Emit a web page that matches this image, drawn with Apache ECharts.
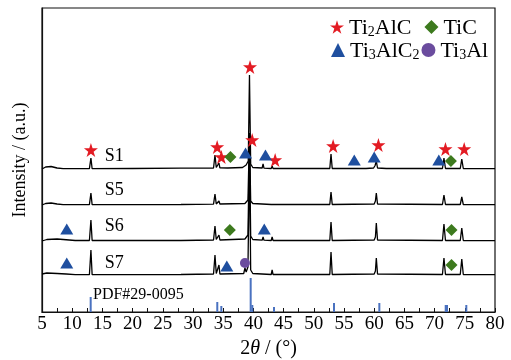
<!DOCTYPE html>
<html>
<head>
<meta charset="utf-8">
<script src="https://cdn.jsdelivr.net/npm/echarts@6/dist/echarts.min.js"></script>
<style>html,body{margin:0;padding:0;background:#fff;}#c{width:511px;height:360px;}</style>
</head>
<body>
<div id="c"></div>
<script>
// ---- data (2θ in degrees, intensity in a.u.) ----
const sampleNames = ['S1', 'S5', 'S6', 'S7'];
const sampleOffsets = [143, 107, 71, 37];
const sampleLabelAngle = 15.4;
const sampleLabelY = [156, 122, 86, 49];

const s1 = [[5,0],[5.6,2],[6.5,2.5],[7.5,1],[8.5,0.3],[12.85,0.3],[13.1,11],[13.3,0.3],
  [20,0.5],[28,0.8],[33.4,1],[33.64,14],[33.85,1.5],[34.15,1.5],[34.3,6],[34.45,1.2],
  [35.75,1],[35.9,2.5],[36.05,1],[38.2,1.5],[38.8,4],[39.15,8],[39.35,94],[39.55,5],[39.9,1.5],
  [41.45,1],[41.6,5],[41.75,0.8],[42.95,0.5],[43.1,3],[43.25,0.5],
  [47.55,0.5],[47.7,1.5],[47.85,0.5],[52.65,0.5],[52.85,15],[53.05,0.5],
  [58.65,0.5],[58.8,1.5],[58.95,0.5],[59.9,1],[60.15,3.5],[60.35,8],[60.55,1],
  [62,0.5],[62.1,1.2],[62.25,0.3],[71.3,0.5],[71.55,11],[71.8,0.5],
  [74.25,0.5],[74.5,10],[74.75,0.5],[80,0.3]];
const s5 = [[5,0],[5.6,1.5],[6.5,2],[7.5,1],[8.5,0.3],[12.85,0.3],[13.1,12],[13.3,0.3],
  [28,0.5],[33.4,0.8],[33.64,11],[33.85,1],[34.15,1],[34.3,4],[34.45,1],
  [38.6,1.5],[39.1,5],[39.35,72],[39.55,4],[39.9,1.5],
  [42.95,0.5],[43.1,2],[43.25,0.5],[52.65,0.5],[52.85,13],[53.05,0.5],
  [60,1],[60.2,4],[60.35,12],[60.55,1],[71.3,0.5],[71.55,10],[71.8,0.5],
  [74.25,0.5],[74.5,8],[74.75,0.5],[80,0.3]];
const s6 = [[5,0],[5.8,1.5],[7.5,2],[9.5,1],[10.5,0.5],[12.85,0.5],[13.1,21],[13.3,0.5],
  [28,0.5],[33.4,1],[33.64,15],[33.85,1.5],[34.15,1.5],[34.3,6],[34.45,1],
  [38.6,2],[39.1,6],[39.35,100],[39.55,5],[39.9,1.5],
  [41.45,0.8],[41.6,4],[41.75,0.8],[42.95,0.5],[43.1,4],[43.25,0.5],
  [52.65,0.5],[52.85,19],[53.05,0.5],[60,1],[60.2,4],[60.35,18],[60.55,1],
  [71.3,0.5],[71.55,17],[71.8,0.5],[74.25,0.5],[74.5,13],[74.75,0.5],[80,0.3]];
const s7 = [[5,1],[5.8,2],[7.5,1.5],[9,1],[10.5,0.3],[12.85,0.3],[13.1,25],[13.3,0.3],
  [28,0.5],[33.4,1],[33.64,20],[33.85,1.5],[34.15,1.5],[34.3,10],[34.45,1],
  [38.4,1.5],[38.6,7],[38.8,3],[39.1,8],[39.35,120],[39.55,5],[39.9,1.5],
  [42.95,0.5],[43.1,5],[43.25,0.5],[52.65,0.5],[52.85,23],[53.05,0.5],
  [60,1],[60.2,4],[60.35,17],[60.55,1],[71.3,0.5],[71.55,17],[71.8,0.5],
  [74.25,0.5],[74.5,16],[74.75,0.5],[80,0.3]];
const samples = [s1, s5, s6, s7];

// PDF#29-0095 reference lines
const pdfLabel = 'PDF#29-0095';
const pdfLabelAt = [13.44, 17];
const pdfAngles = [13.06, 34.02, 34.69, 39.55, 39.82, 43.41, 53.34, 60.85, 71.84, 72.05, 75.25];
const pdfHeights = [15, 10, 6, 34, 7, 5, 9, 9, 7, 7, 7];

// phase markers
const ti2alc = [[13.1,162],[34.0,165],[34.7,155],[39.44,245],[39.8,172],[43.6,152],[53.2,166],[60.7,167],[71.8,163],[74.9,163]];
const ti3alc2 = [[38.7,159],[42.0,157],[56.7,152],[60.0,155],[70.7,152],[9.1,83],[41.8,83],[9.1,49],[35.6,46]];
const tic = [[36.2,155],[72.7,151],[36.1,82],[72.8,82],[72.8,47]];
const ti3al = [[38.6,49]];

// ---- chart ----
const SERIF = 'Liberation Serif';
const STAR = 'path://M50,0 L61.2,34.5 L97.6,34.5 L68.2,55.9 L79.4,90.5 L50,69.1 L20.6,90.5 L31.8,55.9 L2.4,34.5 L38.8,34.5 Z';
const legendText = {
  'Ti2AlC': '{n|Ti}{s|2}{n|AlC}',
  'TiC': '{n|TiC}',
  'Ti3AlC2': '{n|Ti}{s|3}{n|AlC}{s|2}',
  'Ti3Al': '{n|Ti}{s|3}{n|Al}'
};
const legendRich = {
  n: {fontFamily: SERIF, fontSize: 22, color: '#000', lineHeight: 24, verticalAlign: 'bottom'},
  s: {fontFamily: SERIF, fontSize: 14, color: '#000', lineHeight: 11, verticalAlign: 'bottom'}
};

const series = [];
samples.forEach((s, i) => {
  series.push({
    type: 'line', name: sampleNames[i], data: s.map(p => [p[0], p[1] + sampleOffsets[i]]),
    showSymbol: false, symbol: 'none', lineStyle: {color: '#000', width: 1.3}, z: 3 + (3 - i),
    silent: true, animation: false
  });
});
series.push({
  type: 'bar', name: 'PDF', data: pdfAngles.map((a, i) => [a, pdfHeights[i]]),
  barWidth: 2, itemStyle: {color: '#4a72c0'}, animation: false, z: 2
});
series.push({type: 'scatter', name: 'Ti2AlC', data: ti2alc, symbol: STAR, symbolSize: 14, itemStyle: {color: '#e31b23', opacity: 1}, z: 10, animation: false});
series.push({type: 'scatter', name: 'TiC', data: tic, symbol: 'diamond', symbolSize: 12, itemStyle: {color: '#3d7a1e', opacity: 1}, z: 10, animation: false});
series.push({type: 'scatter', name: 'Ti3AlC2', data: ti3alc2, symbol: 'triangle', symbolSize: [13, 11], itemStyle: {color: '#1f4f9f', opacity: 1}, z: 10, animation: false});
series.push({type: 'scatter', name: 'Ti3Al', data: ti3al, symbol: 'circle', symbolSize: 10, itemStyle: {color: '#6b4c9e', opacity: 1}, z: 10, animation: false});

const chart = echarts.init(document.getElementById('c'), null, {renderer: 'canvas'});
chart.setOption({
  backgroundColor: '#fff',
  animation: false,
  grid: {left: 42, right: 16, top: 8, bottom: 48, outerBoundsMode: 'none', containLabel: false,
    show: true, borderColor: '#111', borderWidth: 1.2, backgroundColor: 'transparent'},
  legend: [
    {data: ['Ti2AlC', 'TiC'], left: 330, top: 17, padding: 0, orient: 'horizontal', itemWidth: 14, itemHeight: 14, itemGap: 13,
     formatter: n => legendText[n], textStyle: {rich: legendRich}, selectedMode: false},
    {data: ['Ti3AlC2', 'Ti3Al'], left: 331, top: 40, padding: 0, orient: 'horizontal', itemWidth: 14, itemHeight: 14, itemGap: 2,
     formatter: n => legendText[n], textStyle: {rich: legendRich}, selectedMode: false}
  ],
  xAxis: {
    type: 'value', min: 5, max: 80, interval: 5,
    axisLine: {show: true, lineStyle: {color: '#111', width: 1.2}},
    axisTick: {show: true, inside: true, length: 4, lineStyle: {color: '#111'}},
    minorTick: {show: true, splitNumber: 2, length: 4, lineStyle: {color: '#111'}},
    splitLine: {show: false},
    axisLabel: {fontFamily: SERIF, fontSize: 19, color: '#000', margin: 3},
    name: '{n|2}{i|θ}{n| / (°)}', nameLocation: 'middle', nameGap: 23,
    nameTextStyle: {rich: {
      n: {fontFamily: SERIF, fontSize: 20, color: '#000'},
      i: {fontFamily: SERIF, fontSize: 20, color: '#000', fontStyle: 'italic'}
    }}
  },
  yAxis: {
    type: 'value', min: 0, max: 304,
    axisLine: {show: true, lineStyle: {color: '#111', width: 1.2}},
    axisTick: {show: false}, axisLabel: {show: false}, splitLine: {show: false},
    name: 'Intensity / (a.u.)', nameLocation: 'middle', nameGap: 13,
    nameTextStyle: {fontFamily: SERIF, fontSize: 18, color: '#000'}
  },
  series: series
});

// text annotations anchored in data coordinates
const texts = sampleNames.map((n, i) => ({text: n, at: [sampleLabelAngle, sampleLabelY[i]], size: 18}))
  .concat([{text: pdfLabel, at: pdfLabelAt, size: 16}]);
chart.setOption({
  graphic: texts.map(t => {
    const p = chart.convertToPixel({gridIndex: 0}, t.at);
    return {type: 'text', x: p[0], y: p[1], z: 20, silent: true,
      style: {text: t.text, fontFamily: SERIF, fontSize: t.size, fill: '#000', align: 'left', verticalAlign: 'middle'}};
  })
});
</script>
</body>
</html>
